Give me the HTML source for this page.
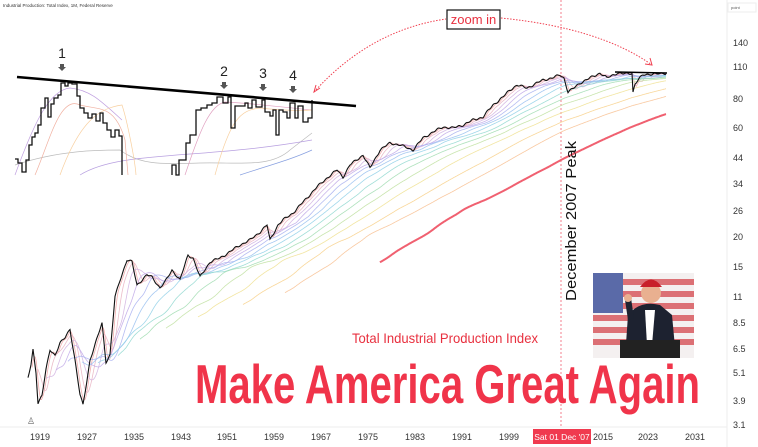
<!DOCTYPE html>
<html><head><meta charset="utf-8"><style>
html,body{margin:0;padding:0;background:#fff;width:758px;height:447px;overflow:hidden;font-family:"Liberation Sans",sans-serif}
</style></head><body>
<svg id="s" width="758" height="447" viewBox="0 0 758 447" xmlns="http://www.w3.org/2000/svg" font-family="Liberation Sans, sans-serif">
<rect width="758" height="447" fill="#fff"/>
<text x="3" y="7" font-size="4.5" fill="#333">Industrial Production: Total Index, 1M, Federal Reserve</text>
<line x1="727" y1="0" x2="727" y2="447" stroke="#eee"/>
<line x1="0" y1="427" x2="727" y2="427" stroke="#eee"/>
<rect x="728" y="3" width="28" height="9" fill="#fff" stroke="#eee"/>
<text x="731" y="9" font-size="4" fill="#555">point</text>
<g font-size="9" fill="#333">
<text x="733" y="46">140</text><text x="733" y="70">110</text><text x="733" y="102">80</text><text x="733" y="131">60</text><text x="733" y="161">44</text><text x="733" y="187">34</text><text x="733" y="214">26</text><text x="733" y="240">20</text><text x="733" y="270">15</text><text x="733" y="300">11</text><text x="733" y="326">8.5</text><text x="733" y="352">6.5</text><text x="733" y="376">5.1</text><text x="733" y="404">3.9</text><text x="733" y="428">3.1</text>
</g>
<g font-size="9" fill="#333" text-anchor="middle">
<text x="40" y="440">1919</text><text x="87" y="440">1927</text><text x="134" y="440">1935</text><text x="181" y="440">1943</text><text x="227" y="440">1951</text><text x="274" y="440">1959</text><text x="321" y="440">1967</text><text x="368" y="440">1975</text><text x="415" y="440">1983</text><text x="462" y="440">1991</text><text x="509" y="440">1999</text><text x="603" y="440">2015</text><text x="648" y="440">2023</text><text x="695" y="440">2031</text>
</g>
<line x1="561" y1="0" x2="561" y2="427" stroke="#f06070" stroke-width="0.8" stroke-dasharray="2,2"/>
<rect x="533" y="429" width="58" height="15" fill="#f03a4f"/>
<text x="562" y="440" font-size="8.5" fill="#fff" text-anchor="middle">Sat 01 Dec '07</text>
<g id="mas"></g>
<path id="price" fill="none" stroke="#111" stroke-width="1.1"/>
<line x1="615" y1="72" x2="667" y2="73" stroke="#000" stroke-width="1.5"/>
<g fill="none" stroke-width="0.7">
<path d="M15,165 C60,150 100,150 120,150 C140,165 160,164 200,163 C240,162 270,168 290,150 L312,133" stroke="#bbb"/>
<path d="M80,175 C120,150 200,160 312,140" stroke="#b8a0e0"/>
<path d="M240,175 C270,165 290,160 312,150" stroke="#88a0e0"/>
<path d="M35,175 C50,140 60,95 80,105 C100,110 115,105 125,140 L128,175" stroke="#f0b0a0"/>
<path d="M15,175 C35,120 50,90 70,88 C90,90 100,100 122,120" stroke="#c0a0e0"/>
<path d="M60,175 C80,120 100,108 122,105 C127,120 135,160 136,175" stroke="#f8d0a0"/>
<path d="M185,175 C200,130 210,105 225,102 C260,104 290,108 312,110" stroke="#e0a0c0"/>
<path d="M215,175 C230,120 240,110 260,108 C280,110 300,111 312,110" stroke="#f8d0a0"/>
</g>
<path d="M15,159 H18 V163 H22 V172 H26 V160 H29 V145 H32 V137 H35 V133 H38 V125 H41 V108 H45 V98 H48 V117 H51 V104 H54 V98 H58 V95 H61 V83 H65 V86 H68 V83 H72 V84 H77 V96 H80 V108 H84 V113 H88 V118 H92 V114 H96 V121 H100 V113 H103 V123 H107 V130 H111 V137 H115 V130 H119 V136 H122 V175" fill="none" stroke="#111" stroke-width="1.3"/>
<path d="M172,175 V165 H176 V175 H179 V160 H186 V143 H190 V135 H196 V110 H201 V108 H207 V105 H212 V103 H217 V97 H223 V103 H228 V97 H231 V128 H235 V106 H245 V103 H248 V108 H252 V100 H256 V107 H262 V100 H265 V112 H270 V116 H273 V110 H276 V135 H279 V110 H283 V112 H287 V118 H290 V103 H295 V118 H298 V106 H303 V122 H308 V118 H312 V100" fill="none" stroke="#111" stroke-width="1.3"/>
<line x1="17" y1="77" x2="356" y2="106" stroke="#000" stroke-width="2.6"/>
<g font-size="14" fill="#222" text-anchor="middle">
<text x="62" y="58">1</text><text x="224" y="76">2</text><text x="263" y="78">3</text><text x="293" y="80">4</text>
</g>
<g fill="#555">
<path d="M60,64 h4 v3 h2 l-4,4 l-4,-4 h2z"/><path d="M222,82 h4 v3 h2 l-4,4 l-4,-4 h2z"/><path d="M261,84 h4 v3 h2 l-4,4 l-4,-4 h2z"/><path d="M291,86 h4 v3 h2 l-4,4 l-4,-4 h2z"/>
</g>
<path d="M314,92 Q370,30 446,19" fill="none" stroke="#f04050" stroke-width="1" stroke-dasharray="1.5,1.5"/>
<path d="M320,88 l-6,4 l2,-7" fill="none" stroke="#f04050" stroke-width="1"/>
<path d="M501,18 Q600,28 652,65" fill="none" stroke="#f04050" stroke-width="1" stroke-dasharray="1.5,1.5"/>
<path d="M645,64 l7,1 l-2,-7" fill="none" stroke="#f04050" stroke-width="1"/>
<rect x="447" y="10" width="53" height="19" fill="#fff" stroke="#111" stroke-width="1.2"/>
<text x="473.5" y="24" font-size="13" fill="#e8303f" text-anchor="middle">zoom in</text>
<text transform="translate(576,301) rotate(-90)" font-size="15" fill="#111" textLength="160" lengthAdjust="spacingAndGlyphs">December 2007 Peak</text>
<g>
<rect x="593" y="273" width="101" height="85" fill="#f4f0f0"/>
<g fill="#d85a60" opacity="0.85">
<rect x="593" y="279" width="101" height="6"/><rect x="593" y="291" width="101" height="6"/><rect x="593" y="303" width="101" height="6"/><rect x="593" y="315" width="101" height="6"/><rect x="593" y="327" width="101" height="6"/><rect x="593" y="339" width="101" height="6"/>
</g>
<rect x="593" y="273" width="30" height="40" fill="#5a6aa8"/>
<path d="M625,358 L628,315 Q640,300 660,305 L672,315 L676,358Z" fill="#1d2230"/>
<path d="M645,310 L655,310 L652,345 L647,345Z" fill="#fff"/>
<circle cx="651" cy="293" r="10" fill="#e9b090"/>
<path d="M640,287 Q651,272 662,287Z" fill="#c8202a"/>
<path d="M628,320 L625,300 L631,298 L634,318Z" fill="#1d2230"/>
<circle cx="628" cy="298" r="4" fill="#e9b090"/>
<rect x="620" y="340" width="60" height="18" fill="#222"/>
</g>
<text x="352" y="343" font-size="14" fill="#e8303f" textLength="186" lengthAdjust="spacingAndGlyphs">Total Industrial Production Index</text>
<text x="195" y="403" font-size="55" font-weight="bold" fill="#f0344a" textLength="505" lengthAdjust="spacingAndGlyphs">Make America Great Again</text>
<text x="27" y="424" font-size="9" fill="#666">♙</text>
</svg>
<script>
var P=[[28,378],[31,365],[33,350],[36,372],[38,403],[42,395],[46,370],[50,350],[55,355],[60,343],[65,338],[70,329],[75,360],[80,395],[83,405],[87,380],[90,360],[95,345],[102,323],[106,362],[110,355],[115,297],[120,280],[127,260],[132,262],[137,285],[142,280],[147,275],[152,277],[160,288],[165,282],[172,270],[180,280],[188,255],[193,258],[200,277],[210,262],[220,258],[228,253],[240,245],[250,240],[260,232],[267,225],[270,240],[278,225],[283,220],[293,213],[305,200],[317,187],[327,178],[337,170],[343,177],[350,165],[363,155],[370,168],[380,150],[390,143],[400,145],[413,150],[423,138],[433,132],[443,127],[453,128],[463,125],[473,120],[483,117],[493,105],[503,97],[510,90],[517,85],[520,86],[527,88],[535,84],[543,80],[552,78],[560,75],[564,78],[568,92],[574,88],[580,83],[590,78],[600,73],[607,78],[617,73],[625,74],[632,73],[633,92],[635,84],[638,80],[643,75],[650,74],[660,74],[666,73]];
function interp(x){for(var i=1;i<P.length;i++){if(x<=P[i][0]){var a=P[i-1],b=P[i];var t=(x-a[0])/(b[0]-a[0]||1);return a[1]+t*(b[1]-a[1]);}}return P[P.length-1][1];}
var ys=[],xs=[];for(var x=28;x<=666;x+=0.5){xs.push(x);ys.push(interp(x)+Math.sin(x*0.9)*0.7+Math.sin(x*0.37)*0.6);}
var d="";for(var i=0;i<xs.length;i++)d+=(i?"L":"M")+xs[i].toFixed(1)+","+ys[i].toFixed(1);
document.getElementById("price").setAttribute("d",d);
var cols=["#f0a0a0","#e8b0c0","#d0b0e0","#c0a8e8","#a8b0f0","#98c0f0","#90d0e8","#90d8d0","#a0dcb0","#c0e0a0","#f0e090","#f8d088","#f8c090","#f06070"];
var wins=[4,10,18,28,40,54,70,90,112,138,170,215,257,352];
var g=document.getElementById("mas"),h="";
for(var k=0;k<wins.length;k++){var w=wins[k]*2;var dd="";var s=0;
for(var i=0;i<ys.length;i++){s+=ys[i];if(i>=w)s-=ys[i-w];if(i>=w){dd+=(dd?"L":"M")+xs[i].toFixed(1)+","+(s/w).toFixed(1);}}
var sw=k==wins.length-1?2:0.8;var op=k==wins.length-1?1:0.85;
h+='<path d="'+dd+'" fill="none" stroke="'+cols[k]+'" stroke-width="'+sw+'" opacity="'+op+'"/>';}
g.innerHTML=h;
</script>
</body></html>
